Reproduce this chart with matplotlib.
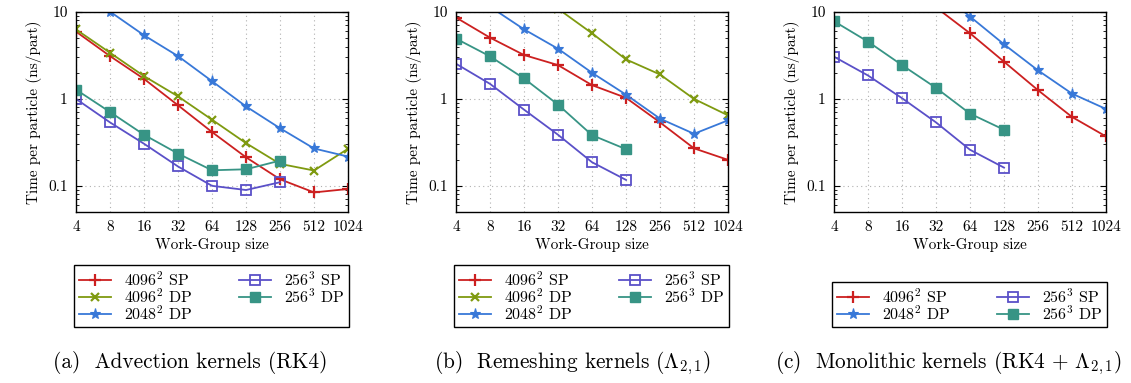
import matplotlib
matplotlib.use("Agg")
import matplotlib.pyplot as plt
import numpy as np

plt.rcParams['font.family'] = ['cmr10', 'DejaVu Serif']
plt.rcParams['mathtext.fontset'] = 'cm'
plt.rcParams['axes.formatter.use_mathtext'] = True

wg = [4, 8, 16, 32, 64, 128, 256, 512, 1024]

# (a) advection
adv_4096_sp = [5.95, 3.11, 1.70, 0.845, 0.416, 0.213, 0.119, 0.084, 0.092]
adv_4096_dp = [6.3, 3.40, 1.83, 1.07, 0.577, 0.31, 0.179, 0.150, 0.267]
adv_2048_dp = [19.0, 10.1, 5.4, 3.11, 1.6, 0.82, 0.46, 0.269, 0.217]
adv_256_sp = [1.0, 0.537, 0.305, 0.167, 0.100, 0.0895, 0.11]
adv_256_dp = [1.28, 0.707, 0.387, 0.235, 0.151, 0.155, 0.195]

# (b) remeshing
rem_4096_sp = [8.64, 5.07, 3.2, 2.45, 1.44, 1.03, 0.537, 0.27, 0.199]
rem_4096_dp = [19.5, 10.9, 5.69, 2.85, 1.91, 1.0, 0.647]      # from 16
rem_2048_dp = [20.0, 11.5, 6.32, 3.78, 2.0, 1.12, 0.593, 0.397, 0.567]
rem_256_sp = [2.54, 1.49, 0.753, 0.387, 0.187, 0.117]
rem_256_dp = [4.94, 3.09, 1.72, 0.86, 0.383, 0.264]

# (c) monolithic
mono_4096_sp = [11.3, 5.69, 2.68, 1.26, 0.62, 0.37]           # from 32
mono_2048_dp = [18.5, 8.87, 4.25, 2.13, 1.15, 0.766]          # from 32
mono_256_sp = [3.06, 1.86, 1.02, 0.537, 0.26, 0.162]
mono_256_dp = [7.83, 4.56, 2.45, 1.34, 0.677, 0.442]

RED = '#cc2020'
OLIVE = '#7f9a10'
BLUE = '#3878d8'
PURPLE = '#5a50c8'
TEAL = '#379485'

styles = {
    'r4096sp': dict(color=RED, marker='+', ms=8, mew=1.6, label=r'$4096^2$ SP'),
    'r4096dp': dict(color=OLIVE, marker='x', ms=6, mew=1.6, label=r'$4096^2$ DP'),
    'r2048dp': dict(color=BLUE, marker='*', ms=8, mew=0.8, label=r'$2048^2$ DP'),
    'c256sp': dict(color=PURPLE, marker='s', ms=7, mew=1.3, mfc='none', label=r'$256^3$ SP'),
    'c256dp': dict(color=TEAL, marker='s', ms=7.5, mew=1.0, label=r'$256^3$ DP'),
}

panels = [
    ([('r4096sp', wg, adv_4096_sp), ('r4096dp', wg, adv_4096_dp), ('r2048dp', wg, adv_2048_dp),
      ('c256sp', wg[:7], adv_256_sp), ('c256dp', wg[:7], adv_256_dp)],
     '(a)  Advection kernels (RK4)', 190),
    ([('r4096sp', wg, rem_4096_sp), ('r4096dp', wg[2:], rem_4096_dp), ('r2048dp', wg, rem_2048_dp),
      ('c256sp', wg[:6], rem_256_sp), ('c256dp', wg[:6], rem_256_dp)],
     r'(b)  Remeshing kernels ($\Lambda_{2,1}$)', 572),
    ([('r4096sp', wg[3:], mono_4096_sp), ('r2048dp', wg[3:], mono_2048_dp),
      ('c256sp', wg[:6], mono_256_sp), ('c256dp', wg[:6], mono_256_dp)],
     r'(c)  Monolithic kernels (RK4 + $\Lambda_{2,1}$)', 948),
]

W, H = 1131, 383
fig = plt.figure(figsize=(W / 100, H / 100), dpi=100)
lefts = [76, 456, 834]
ax_w, top, bot = 272, 12, 212

for i, (series, caption, cx) in enumerate(panels):
    ax = fig.add_axes([lefts[i] / W, 1 - bot / H, ax_w / W, (bot - top) / H])
    for key, x, y in series:
        ax.plot(x, y, lw=1.3, clip_on=True, **styles[key])
    ax.set_xscale('log', base=2)
    ax.set_yscale('log')
    ax.set_xlim(4, 1024)
    ax.set_ylim(0.05, 10)
    ax.set_xticks(wg)
    ax.set_xticklabels([str(v) for v in wg])
    ax.xaxis.set_minor_locator(matplotlib.ticker.NullLocator())
    ax.set_yticks([0.1, 1, 10])
    ax.set_yticklabels(['0.1', '1', '10'])
    ax.tick_params(which='both', direction='in', top=True, right=True, labelsize=11, colors='black')
    ax.tick_params(which='major', length=4, width=0.8, pad=6)
    ax.tick_params(which='minor', length=2.5, width=0.6)
    ax.tick_params(axis='x', which='major', length=0)
    ax.grid(True, which='major', ls=(0, (1, 3)), color='#b0b0b0', lw=0.8)
    for s in ax.spines.values():
        s.set_linewidth(1.0)
    ax.set_xlabel('Work-Group size', fontsize=11, labelpad=3)
    ax.set_ylabel('Time per particle (ns/part)', fontsize=11, labelpad=4)

    # legend box: 2 px left of the axes, 275 px wide, top at 265 (a, b) or 282 (c)
    ltop = 265 if len(series) == 5 else 282
    box = (-2 / ax_w, (bot - ltop) / (bot - top), 275 / ax_w, 0.0)
    ax.legend(loc='upper left', bbox_to_anchor=box, mode='expand', ncol=2,
              fontsize=11.5, frameon=True, fancybox=False, edgecolor='black',
              framealpha=1, handlelength=2.0, borderaxespad=0, labelspacing=-0.08,
              columnspacing=2.0, borderpad=0.3, handletextpad=0.8)
    fig.text(cx / W, 1 - 363 / H, caption, ha='center', va='center', fontsize=15.3)

fig.savefig('out.png', dpi=100)
